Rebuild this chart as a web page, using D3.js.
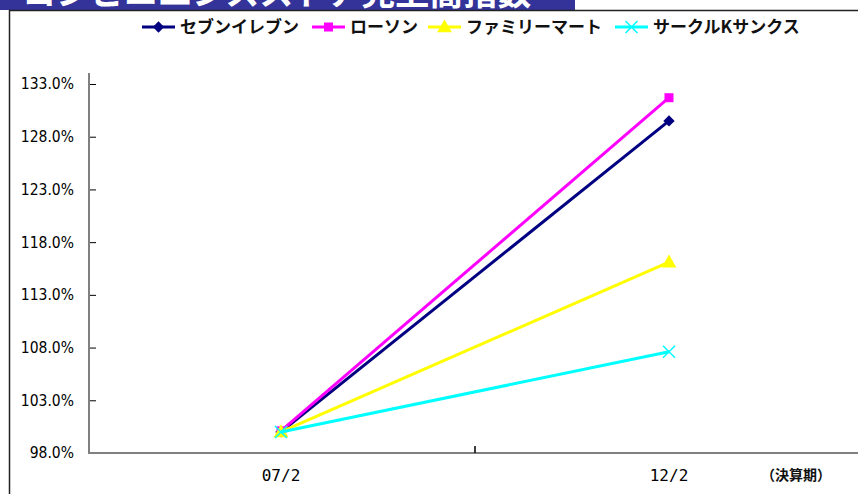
<!DOCTYPE html>
<html>
<head>
<meta charset="utf-8">
<script src="https://cdn.jsdelivr.net/npm/d3@7"></script>
<style>
  body { margin: 0; background: #fff; }
  svg { display: block; }
</style>
</head>
<body>
<svg id="chart" width="858" height="494"></svg>
<script>
// data
var periods = ["07/2", "12/2"];
var seven   = [100.0, 129.5];
var lawson  = [100.1, 131.7];
var family  = [100.0, 116.1];
var circleK = [100.0, 107.6];
var yTicks  = [98, 103, 108, 113, 118, 123, 128, 133];
var seriesNames = ["セブンイレブン", "ローソン", "ファミリーマート", "サークルKサンクス"];

var series = [
  {name: seriesNames[0], values: seven,   color: "#000080", shape: "diamond"},
  {name: seriesNames[1], values: lawson,  color: "#ff00ff", shape: "square"},
  {name: seriesNames[2], values: family,  color: "#ffff00", shape: "triangle"},
  {name: seriesNames[3], values: circleK, color: "#00ffff", shape: "cross"}
];

var svg = d3.select("#chart");
var jp = "'Noto Sans CJK JP', sans-serif";

// title bar (cut off at top), clipped to the bar
svg.append("clipPath").attr("id", "titleclip")
  .append("rect").attr("x", 0).attr("y", 0).attr("width", 575).attr("height", 10);
var tg = svg.append("g").attr("clip-path", "url(#titleclip)");
tg.append("rect").attr("x", 0).attr("y", 0).attr("width", 575).attr("height", 10).attr("fill", "#333399");
tg.append("text").attr("x", 22).attr("y", 5)
  .attr("font-family", jp).attr("font-weight", "bold").attr("font-size", 34)
  .attr("fill", "#fff").text("コンビニエンスストア売上高指数");

// outer frame
svg.append("rect").attr("x", 9.5).attr("y", 10.5).attr("width", 900).attr("height", 600)
  .attr("fill", "none").attr("stroke", "#222").attr("stroke-width", 1.5);

var x = d3.scaleBand().domain(periods).range([87, 863]);
var y = d3.scaleLinear().domain([98, 133]).range([453, 84]);

// y axis
var yAxis = d3.axisLeft(y).tickValues(yTicks).tickSize(-7).tickPadding(15)
  .tickFormat(function(d) { return d.toFixed(1) + "%"; });
var gy = svg.append("g").attr("transform", "translate(89,0)").call(yAxis);
gy.select(".domain").remove();
gy.selectAll(".tick line").attr("stroke", "#000").attr("stroke-width", 1);
gy.selectAll(".tick text").attr("font-family", "'DejaVu Sans Condensed', sans-serif")
  .attr("font-size", 15.5).attr("fill", "#000");
gy.append("line").attr("x1", 0).attr("x2", 0).attr("y1", 73).attr("y2", y(98))
  .attr("stroke", "#808080").attr("stroke-width", 2);

// x axis
svg.append("line").attr("x1", 88).attr("x2", 858).attr("y1", y(98)).attr("y2", y(98))
  .attr("stroke", "#808080").attr("stroke-width", 2);
svg.selectAll(".xtick").data(periods.slice(1)).enter().append("line")
  .attr("x1", function(d) { return x(d); }).attr("x2", function(d) { return x(d); })
  .attr("y1", y(98)).attr("y2", y(98) - 7).attr("stroke", "#000").attr("stroke-width", 1.5);
svg.selectAll(".xlab").data(periods).enter().append("text")
  .attr("x", function(d) { return x(d) + x.bandwidth() / 2; }).attr("y", 481)
  .attr("text-anchor", "middle").attr("font-family", "'DejaVu Sans Mono', monospace")
  .attr("font-size", 16).attr("fill", "#000").text(function(d) { return d; });
svg.append("text").attr("x", 796).attr("y", 480).attr("text-anchor", "middle")
  .attr("font-family", jp).attr("font-weight", "bold").attr("font-size", 14)
  .attr("fill", "#111").text("（決算期）");

function marker(g, s, cx, cy) {
  if (s.shape === "diamond") {
    g.append("rect").attr("x", -4).attr("y", -4).attr("width", 8).attr("height", 8)
      .attr("transform", "translate(" + cx + "," + cy + ") rotate(45)").attr("fill", s.color);
  } else if (s.shape === "square") {
    g.append("rect").attr("x", cx - 4.5).attr("y", cy - 4.5).attr("width", 9).attr("height", 9).attr("fill", s.color);
  } else if (s.shape === "triangle") {
    g.append("path").attr("d", d3.symbol(d3.symbolTriangle, 95)())
      .attr("transform", "translate(" + cx + "," + (cy + 1) + ")").attr("fill", s.color);
  } else {
    g.append("path").attr("d", "M-6,-6L6,6M-6,6L6,-6")
      .attr("transform", "translate(" + cx + "," + cy + ")").attr("stroke", s.color).attr("stroke-width", 1.5);
  }
}

var line = d3.line()
  .x(function(d, i) { return x(periods[i]) + x.bandwidth() / 2; })
  .y(function(d) { return y(d); });

series.forEach(function(s) {
  var g = svg.append("g");
  g.append("path").datum(s.values).attr("d", line).attr("fill", "none")
    .attr("stroke", s.color).attr("stroke-width", 3);
  s.values.forEach(function(v, i) {
    marker(g, s, x(periods[i]) + x.bandwidth() / 2, y(v));
  });
});

// legend
var legX = [142, 312, 428, 615];
var lg = svg.append("g");
series.forEach(function(s, i) {
  var g = lg.append("g").attr("transform", "translate(" + legX[i] + ",27)");
  g.append("line").attr("x1", 0).attr("x2", 33).attr("stroke", s.color).attr("stroke-width", 3);
  marker(g, s, 16.5, 0);
  g.append("text").attr("x", 38).attr("y", 6).attr("font-family", jp).attr("font-weight", "bold")
    .attr("font-size", 17).attr("fill", "#111").text(s.name);
});
</script>
</body>
</html>
